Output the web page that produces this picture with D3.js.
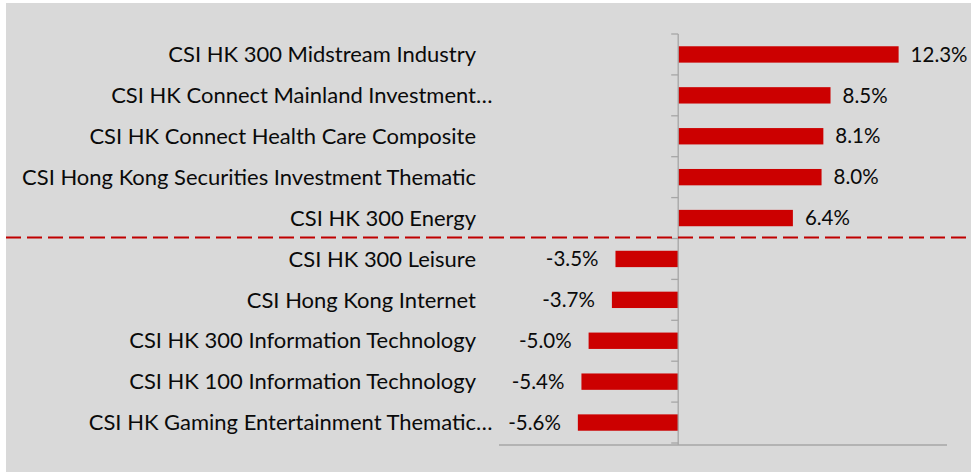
<!DOCTYPE html>
<html>
<head>
<meta charset="utf-8">
<script src="https://cdn.jsdelivr.net/npm/d3@7"></script>
<style>
  html, body { margin: 0; padding: 0; background: #ffffff; }
  svg { display: block; }
  text { font-family: Lato, "Open Sans", "Noto Sans", sans-serif; fill: #0a0a0a; }
</style>
</head>
<body>
<svg id="chart" width="971" height="472"></svg>
<script>
const categories = [
  "CSI HK 300 Midstream Industry",
  "CSI HK Connect Mainland Investment…",
  "CSI HK Connect Health Care Composite",
  "CSI Hong Kong Securities Investment Thematic",
  "CSI HK 300 Energy",
  "CSI HK 300 Leisure",
  "CSI Hong Kong Internet",
  "CSI HK 300 Information Technology",
  "CSI HK 100 Information Technology",
  "CSI HK Gaming Entertainment Thematic…"
];
const values = [12.3, 8.5, 8.1, 8.0, 6.4, -3.5, -3.7, -5.0, -5.4, -5.6];
const xDomain = [-10, 15];
const dividerAfter = 4; // dashed line between top gainers and losers

const svg = d3.select("#chart");
const W = 971, H = 472;

svg.append("rect").attr("x", 6).attr("y", 3).attr("width", W - 6).attr("height", H - 3)
  .attr("fill", "#d9d9d9");

const x = d3.scaleLinear().domain(xDomain).range([499, 947]);
const y = d3.scaleBand().domain(categories).range([34, 443]).paddingInner(0.6).paddingOuter(0.3);
const bandTop = i => 34 + i * (409 / categories.length);

const data = categories.map((c, i) => ({ c, v: values[i], i }));

// bars
svg.append("g").selectAll("rect").data(data).enter().append("rect")
  .attr("x", d => x(Math.min(0, d.v)))
  .attr("width", d => Math.abs(x(d.v) - x(0)))
  .attr("y", d => y(d.c))
  .attr("height", y.bandwidth())
  .attr("fill", "#cc0000");

// zero axis with ticks on left
const yAxisG = svg.append("g").attr("transform", `translate(${x(0)},0)`);
yAxisG.append("line").attr("x1", 0).attr("x2", 0).attr("y1", 34).attr("y2", 445)
  .attr("stroke", "#a6a6a6").attr("stroke-width", 1.3);
yAxisG.selectAll("line.tick").data(d3.range(categories.length + 1)).enter().append("line")
  .attr("class", "tick")
  .attr("x1", -7).attr("x2", 0)
  .attr("y1", i => bandTop(i)).attr("y2", i => bandTop(i))
  .attr("stroke", "#a6a6a6").attr("stroke-width", 1.3);

// bottom axis line
svg.append("line").attr("x1", x(xDomain[0])).attr("x2", x(xDomain[1]))
  .attr("y1", 445).attr("y2", 445).attr("stroke", "#a6a6a6").attr("stroke-width", 1.6);

// dashed divider
const divY = bandTop(dividerAfter + 1) - 1;
svg.append("line").attr("x1", 6).attr("x2", W).attr("y1", divY).attr("y2", divY)
  .attr("stroke", "#c00000").attr("stroke-width", 2).attr("stroke-dasharray", "15,6");

// category labels
const fs = 20;
const labelsG = svg.append("g");
const labelX = 476;
data.forEach(d => {
  const trunc = d.c.endsWith("…");
  const base = trunc ? d.c.slice(0, -1) : d.c;
  const cy = y(d.c) + y.bandwidth() / 2;
  labelsG.append("text").attr("x", labelX).attr("y", cy).attr("dy", "0.35em")
    .attr("text-anchor", "end").attr("font-size", fs).text(base);
  if (trunc) {
    labelsG.append("text").attr("x", labelX).attr("y", cy).attr("dy", "0.35em")
      .attr("text-anchor", "start").attr("font-size", fs).text("…");
  }
});
// fit font size so the longest label spans like the reference
const longest = labelsG.selectAll("text").nodes().reduce((a, n) => Math.max(a, n.getComputedTextLength()), 0);
const target = 454;
const newFs = fs * target / longest;
labelsG.selectAll("text").attr("font-size", newFs);

// value labels
svg.append("g").selectAll("text").data(data).enter().append("text")
  .attr("x", d => d.v >= 0 ? x(d.v) + 12 : x(d.v) - 17)
  .attr("y", d => y(d.c) + y.bandwidth() / 2)
  .attr("dy", "0.35em")
  .attr("text-anchor", d => d.v >= 0 ? "start" : "end")
  .attr("font-size", 20.5)
  .text(d => d.v.toFixed(1) + "%");
</script>
</body>
</html>
